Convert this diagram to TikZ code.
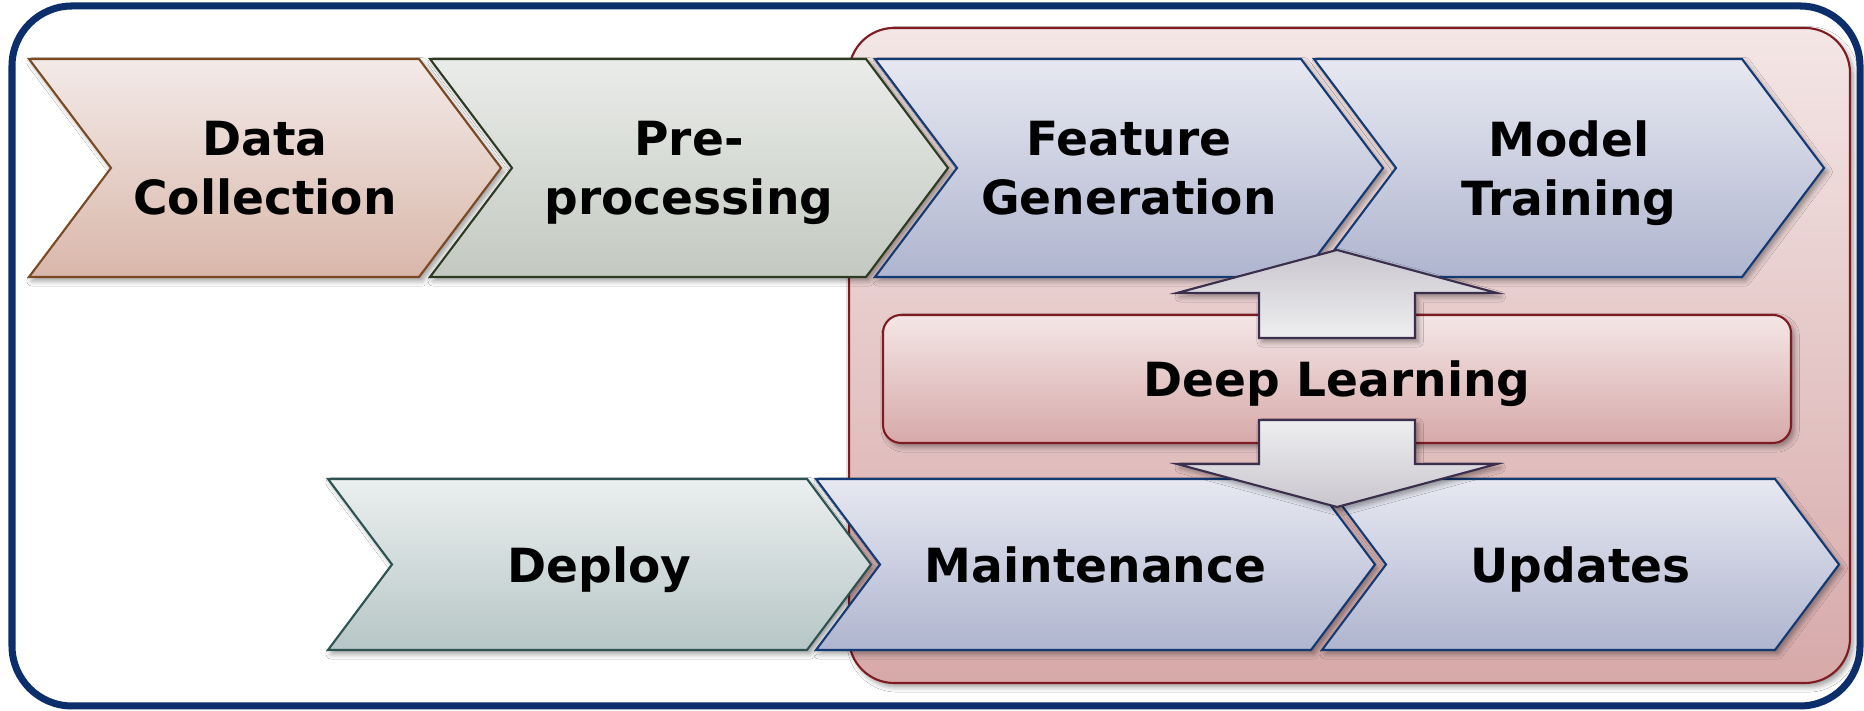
\documentclass[tikz,border=0pt]{standalone}
\usepackage{fontspec}
\setmainfont{DejaVu Sans}
\usepackage{tikz}
\usetikzlibrary{shadows.blur}

\definecolor{framenavy}{HTML}{0C2E6B}
\definecolor{collecttop}{HTML}{F3EAE8}
\definecolor{collectbot}{HTML}{D9B7AA}
\definecolor{collectline}{HTML}{7B4A23}
\definecolor{preptop}{HTML}{EAECE9}
\definecolor{prepbot}{HTML}{C3C9C1}
\definecolor{prepline}{HTML}{2D3B22}
\definecolor{mltop}{HTML}{E7E8F1}
\definecolor{mlbot}{HTML}{AFB5CF}
\definecolor{mlline}{HTML}{123A75}
\definecolor{deploytop}{HTML}{EBEFEF}
\definecolor{deploybot}{HTML}{B7C6C6}
\definecolor{deployline}{HTML}{2C5252}
\definecolor{dltop}{HTML}{F4E6E6}
\definecolor{dlbot}{HTML}{D7A9A9}
\definecolor{dlline}{HTML}{7E1C22}
\definecolor{arrowdark}{HTML}{C9C6CD}
\definecolor{arrowlight}{HTML}{EEEEF0}
\definecolor{arrowline}{HTML}{3B2F4D}

\tikzstyle{softshadow}=[blur shadow={shadow xshift=0.9pt, shadow yshift=-1.1pt, shadow blur radius=1.5pt, shadow blur steps=6, shadow opacity=40}]
\tikzstyle{collectstep}=[draw=collectline, line width=0.6pt, top color=collecttop, bottom color=collectbot, softshadow]
\tikzstyle{prepstep}=[draw=prepline, line width=0.6pt, top color=preptop, bottom color=prepbot, softshadow]
\tikzstyle{mlstep}=[draw=mlline, line width=0.6pt, top color=mltop, bottom color=mlbot, softshadow]
\tikzstyle{deploystep}=[draw=deployline, line width=0.6pt, top color=deploytop, bottom color=deploybot, softshadow]
\tikzstyle{steptext}=[font=\bfseries\fontsize{13.4}{16.8}\selectfont, align=center, text depth=0pt]
\tikzstyle{blockarrow}=[draw=arrowline, line width=0.6pt, softshadow]

\begin{document}
\begin{tikzpicture}
\useasboundingbox (0,0) rectangle (18.64,7.11);

% outer frame and the deep learning panel
\draw [framenavy, fill=white, line width=2pt, rounded corners=0.6cm] (0.12,0.05) rectangle (18.60,7.05);
\draw [dlline, line width=0.6pt, top color=dltop, bottom color=dlbot, rounded corners=0.45cm, softshadow] (8.49,0.28) rectangle (18.50,6.83);

% first row
\draw [collectstep] (0.29,6.52) -- (4.19,6.52) -- (5.01,5.43) -- (4.19,4.34) -- (0.29,4.34) -- (1.11,5.43) -- cycle;
\draw [prepstep] (4.30,6.52) -- (8.66,6.52) -- (9.48,5.43) -- (8.66,4.34) -- (4.30,4.34) -- (5.12,5.43) -- cycle;
\draw [mlstep] (8.75,6.52) -- (13.01,6.52) -- (13.83,5.43) -- (13.01,4.34) -- (8.75,4.34) -- (9.57,5.43) -- cycle;
\draw [mlstep] (13.14,6.52) -- (17.42,6.52) -- (18.24,5.43) -- (17.42,4.34) -- (13.14,4.34) -- (13.96,5.43) -- cycle;
\node [steptext] (collect) at (2.65,5.43) {Data\\Collection};
\node [steptext] (prep) at (6.89,5.43) {Pre-\\processing};
\node [steptext] (feature) at (11.29,5.43) {Feature\\Generation};
\node [steptext] (train) at (15.69,5.43) {Model\\Training};

% second row
\draw [deploystep] (3.28,2.32) -- (8.07,2.32) -- (8.71,1.465) -- (8.07,0.61) -- (3.28,0.61) -- (3.92,1.465) -- cycle;
\draw [mlstep] (8.16,2.32) -- (13.11,2.32) -- (13.75,1.465) -- (13.11,0.61) -- (8.16,0.61) -- (8.80,1.465) -- cycle;
\draw [mlstep] (13.22,2.32) -- (17.75,2.32) -- (18.39,1.465) -- (17.75,0.61) -- (13.22,0.61) -- (13.86,1.465) -- cycle;
\node [steptext] (deploy) at (5.995,1.465) {Deploy};
\node [steptext] (maint) at (10.955,1.465) {Maintenance};
\node [steptext] (updates) at (15.805,1.465) {Updates};

% deep learning box with its two arrows
\node [steptext, draw=dlline, line width=0.6pt, top color=dltop, bottom color=dlbot, rounded corners=0.18cm,
       minimum width=9.08cm, minimum height=1.28cm, softshadow] (dl) at (13.37,3.32) {Deep Learning};
\draw [blockarrow, top color=arrowdark, bottom color=arrowlight] (13.37,4.61) -- (14.97,4.18) -- (14.15,4.18) -- (14.15,3.73)
      -- (12.59,3.73) -- (12.59,4.18) -- (11.77,4.18) -- cycle;
\draw [blockarrow, top color=arrowlight, bottom color=arrowdark] (12.59,2.91) -- (14.15,2.91) -- (14.15,2.47) -- (14.97,2.47)
      -- (13.37,2.04) -- (11.77,2.47) -- (12.59,2.47) -- cycle;
\end{tikzpicture}
\end{document}
